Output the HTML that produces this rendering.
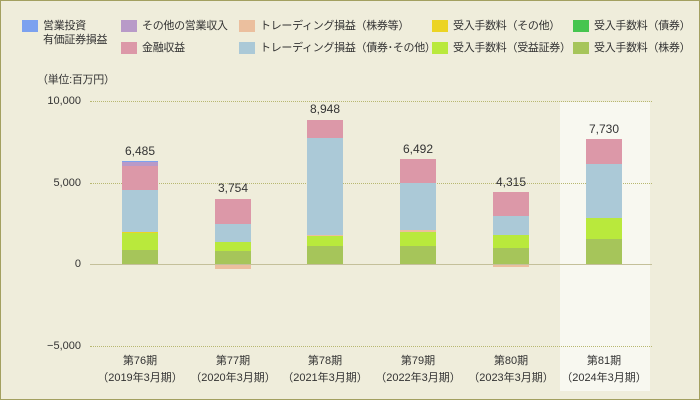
<!DOCTYPE html>
<html><head><meta charset="utf-8"><style>
body{margin:0}
#c{position:relative;width:698px;height:398px;background:#efeddb;border:1px solid #a3a060;overflow:hidden;font-family:"Liberation Sans","Noto Sans CJK JP",sans-serif;color:#333;font-size:11px}
.a{position:absolute}
.lg{position:absolute;width:16px;height:12px}
.lt{position:absolute;white-space:nowrap;line-height:14px;font-size:11px;letter-spacing:-0.3px}
.b{position:absolute;width:36px}
.v{position:absolute;width:60px;text-align:center;font-size:12px}
.x{position:absolute;width:110px;text-align:center;font-size:11px;line-height:17px}
</style></head><body><div id="c">
<div class="lg" style="left:21px;top:19px;background:#7ca1ef"></div><div class="lt" style="left:42px;top:18px">営業投資<br>有価証券損益</div>
<div class="lg" style="left:120px;top:19px;background:#b89ac8"></div><div class="lt" style="left:141px;top:18px">その他の営業収入</div>
<div class="lg" style="left:120px;top:41px;background:#dc98a8"></div><div class="lt" style="left:141px;top:40px">金融収益</div>
<div class="lg" style="left:238px;top:19px;background:#ebbf9e"></div><div class="lt" style="left:259px;top:18px">トレーディング損益（株券等）</div>
<div class="lg" style="left:238px;top:41px;background:#abc9d7"></div><div class="lt" style="left:259px;top:40px">トレーディング損益（債券･その他）</div>
<div class="lg" style="left:431px;top:19px;background:#ecd424"></div><div class="lt" style="left:452px;top:18px">受入手数料（その他）</div>
<div class="lg" style="left:431px;top:41px;background:#b9e93c"></div><div class="lt" style="left:452px;top:40px">受入手数料（受益証券）</div>
<div class="lg" style="left:572px;top:19px;background:#46c54f"></div><div class="lt" style="left:593px;top:18px">受入手数料（債券）</div>
<div class="lg" style="left:572px;top:41px;background:#a6c55a"></div><div class="lt" style="left:593px;top:40px">受入手数料（株券）</div>
<div class="lt" style="left:36px;top:72px">（単位:百万円）</div>
<div class="a" style="left:559px;top:101px;width:90px;height:289px;background:#f8f8f0"></div>
<div class="a" style="left:89px;top:100px;width:562px;border-top:1px dotted #b8b870"></div>
<div class="a" style="left:89px;top:182px;width:562px;border-top:1px dotted #b8b870"></div>
<div class="a" style="left:89px;top:345px;width:562px;border-top:1px dotted #b8b870"></div>
<div class="a" style="left:10px;top:94px;width:70px;text-align:right">10,000</div>
<div class="a" style="left:10px;top:176px;width:70px;text-align:right">5,000</div>
<div class="a" style="left:10px;top:257px;width:70px;text-align:right">0</div>
<div class="a" style="left:10px;top:339px;width:70px;text-align:right">−5,000</div>
<div class="b" style="left:121px;top:160px;height:1px;background:#7ca1ef"></div>
<div class="b" style="left:121px;top:161px;height:4px;background:#b89ac8"></div>
<div class="b" style="left:121px;top:165px;height:24px;background:#dc98a8"></div>
<div class="b" style="left:121px;top:189px;height:42px;background:#abc9d7"></div>
<div class="b" style="left:121px;top:231px;height:1px;background:#ecd424"></div>
<div class="b" style="left:121px;top:232px;height:17px;background:#b9e93c"></div>
<div class="b" style="left:121px;top:249px;height:14px;background:#a6c55a"></div>
<div class="v" style="left:109px;top:143px">6,485</div>
<div class="b" style="left:214px;top:198px;height:25px;background:#dc98a8"></div>
<div class="b" style="left:214px;top:223px;height:18px;background:#abc9d7"></div>
<div class="b" style="left:214px;top:241px;height:9px;background:#b9e93c"></div>
<div class="b" style="left:214px;top:250px;height:13px;background:#a6c55a"></div>
<div class="b" style="left:214px;top:263px;height:5px;background:#ebbf9e"></div>
<div class="v" style="left:202px;top:180px">3,754</div>
<div class="b" style="left:306px;top:119px;height:18px;background:#dc98a8"></div>
<div class="b" style="left:306px;top:137px;height:97px;background:#abc9d7"></div>
<div class="b" style="left:306px;top:234px;height:1px;background:#ebbf9e"></div>
<div class="b" style="left:306px;top:235px;height:10px;background:#b9e93c"></div>
<div class="b" style="left:306px;top:245px;height:18px;background:#a6c55a"></div>
<div class="v" style="left:294px;top:101px">8,948</div>
<div class="b" style="left:399px;top:158px;height:24px;background:#dc98a8"></div>
<div class="b" style="left:399px;top:182px;height:47px;background:#abc9d7"></div>
<div class="b" style="left:399px;top:229px;height:2px;background:#ebbf9e"></div>
<div class="b" style="left:399px;top:231px;height:14px;background:#b9e93c"></div>
<div class="b" style="left:399px;top:245px;height:18px;background:#a6c55a"></div>
<div class="v" style="left:387px;top:141px">6,492</div>
<div class="b" style="left:492px;top:191px;height:24px;background:#dc98a8"></div>
<div class="b" style="left:492px;top:215px;height:19px;background:#abc9d7"></div>
<div class="b" style="left:492px;top:234px;height:13px;background:#b9e93c"></div>
<div class="b" style="left:492px;top:247px;height:16px;background:#a6c55a"></div>
<div class="b" style="left:492px;top:263px;height:3px;background:#ebbf9e"></div>
<div class="v" style="left:480px;top:174px">4,315</div>
<div class="b" style="left:585px;top:138px;height:25px;background:#dc98a8"></div>
<div class="b" style="left:585px;top:163px;height:54px;background:#abc9d7"></div>
<div class="b" style="left:585px;top:217px;height:21px;background:#b9e93c"></div>
<div class="b" style="left:585px;top:238px;height:25px;background:#a6c55a"></div>
<div class="v" style="left:573px;top:121px">7,730</div>
<div class="a" style="left:89px;top:263px;width:562px;height:1px;background:#c4c09a"></div>
<div class="x" style="left:84px;top:352px">第76期<br>（2019年3月期）</div>
<div class="x" style="left:177px;top:352px">第77期<br>（2020年3月期）</div>
<div class="x" style="left:269px;top:352px">第78期<br>（2021年3月期）</div>
<div class="x" style="left:362px;top:352px">第79期<br>（2022年3月期）</div>
<div class="x" style="left:455px;top:352px">第80期<br>（2023年3月期）</div>
<div class="x" style="left:548px;top:352px">第81期<br>（2024年3月期）</div>
</div></body></html>
